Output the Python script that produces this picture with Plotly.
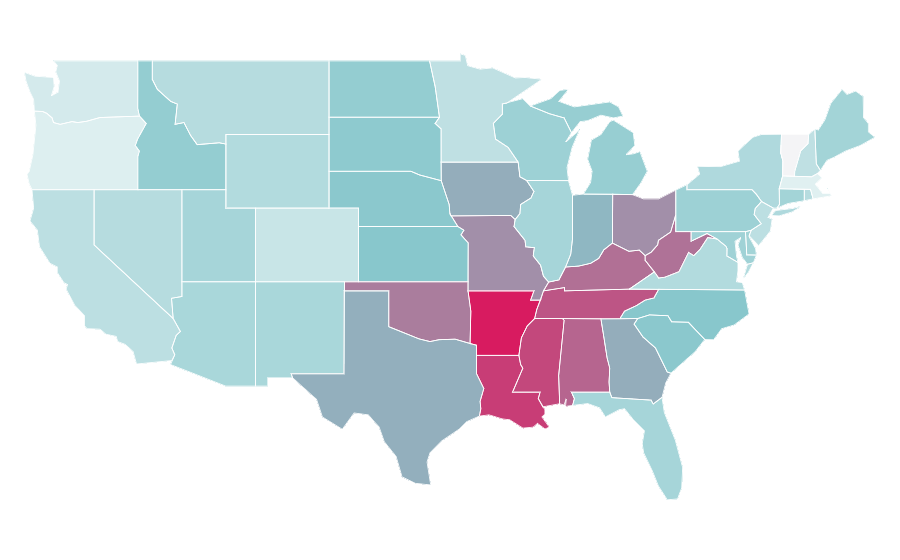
import math
import plotly.graph_objects as go

states = ["AL","AR","AZ","CA","CO","CT","DE","FL","GA","IA","ID","IL","IN","KS","KY","LA","MA","MD","ME",
          "MI","MN","MO","MS","MT","NC","ND","NE","NH","NJ","NM","NV","NY","OH","OK","OR","PA","RI","SC","SD",
          "TN","TX","UT","VA","VT","WA","WI","WV","WY"]
# 0 = palest state, 100 = Arkansas
values = [72, 100, 24, 18, 14, 26, 26, 25, 45, 45, 31, 25, 41, 35, 68, 87, 6, 27, 26,
          30, 17, 56, 83, 20, 35, 31, 34, 17, 18, 24, 20, 22, 56, 63, 7, 28, 20, 34, 33,
          78, 44, 25, 21, 0, 10, 28, 67, 21]

colorscale = [[0, "#f4f4f6"], [0.06, "#e0f0f1"], [0.35, "#88c7cc"], [1, "#d81b60"]]

# plotly's usa topojson comes from a CDN and can't load here, so the outlines
# are simplified state shapes in lon/lat, typed in by hand
outlines = {
    "WA": [[(-122.76,49),(-122.5,48.75),(-122.6,48.4),(-122.35,47.9),(-122.45,47.3),(-122.9,47.1),(-122.7,47.6),(-122.75,48.1),(-123.2,48.15),(-124,48.17),(-124.73,48.38),(-124.62,47.9),(-124.35,47.3),(-124.1,46.9),(-124.05,46.27),(-123.5,46.25),(-123.2,46.15),(-122.85,45.9),(-122.75,45.65),(-122.3,45.55),(-121.5,45.7),(-121.1,45.65),(-120.5,45.72),(-119.6,45.92),(-119,45.93),(-116.92,46),(-117.04,46.42),(-117.03,49)]],
    "OR": [[(-124.05,46.27),(-123.95,45.5),(-124.07,44.7),(-124.15,43.9),(-124.4,43),(-124.55,42.84),(-124.4,42.3),(-124.21,42),(-120,42),(-117.03,42),(-117.03,43.8),(-116.93,44.1),(-117.2,44.4),(-117.05,44.75),(-116.5,45.5),(-116.46,45.6),(-116.92,46),(-119,45.93),(-119.6,45.92),(-120.5,45.72),(-121.1,45.65),(-121.5,45.7),(-122.3,45.55),(-122.75,45.65),(-122.85,45.9),(-123.2,46.15),(-123.5,46.25)]],
    "CA": [[(-124.21,42),(-120,42),(-120,39),(-114.63,35),(-114.14,34.3),(-114.43,34.08),(-114.72,33.4),(-114.52,33.03),(-114.72,32.72),(-117.12,32.53),(-117.25,32.85),(-117.35,33.2),(-117.9,33.6),(-118.4,33.75),(-118.5,34.03),(-119.2,34.15),(-119.6,34.42),(-120.47,34.45),(-120.65,34.6),(-120.65,35.15),(-121.3,35.7),(-121.9,36.6),(-121.8,36.85),(-122.05,36.95),(-122.5,37.5),(-122.5,37.8),(-123,38),(-123.7,38.9),(-123.85,39.8),(-124.35,40.3),(-124.1,41)]],
    "NV": [[(-120,42),(-114.04,42),(-114.04,36.2),(-114.74,36.1),(-114.63,35),(-120,39)]],
    "ID": [[(-117.03,49),(-116.05,49),(-116.05,48),(-115.7,47.45),(-114.8,46.8),(-114.35,46.65),(-114.5,45.55),(-113.9,45.65),(-113.45,44.95),(-113,44.45),(-111.5,44.55),(-111.05,44.48),(-111.05,42),(-117.03,42),(-117.03,43.8),(-116.93,44.1),(-117.2,44.4),(-117.05,44.75),(-116.5,45.5),(-116.46,45.6),(-116.92,46),(-117.04,46.42)]],
    "MT": [[(-116.05,49),(-104.05,49),(-104.05,45),(-111.05,45),(-111.05,44.48),(-111.5,44.55),(-113,44.45),(-113.45,44.95),(-113.9,45.65),(-114.5,45.55),(-114.35,46.65),(-114.8,46.8),(-115.7,47.45),(-116.05,48)]],
    "WY": [[(-111.05,45),(-104.05,45),(-104.05,41),(-111.05,41)]],
    "UT": [[(-114.04,42),(-111.05,42),(-111.05,41),(-109.05,41),(-109.05,37),(-114.04,37)]],
    "CO": [[(-109.05,41),(-102.05,41),(-102.05,37),(-109.05,37)]],
    "AZ": [[(-114.04,37),(-109.05,37),(-109.05,31.33),(-111.07,31.33),(-114.81,32.5),(-114.72,32.72),(-114.52,33.03),(-114.72,33.4),(-114.43,34.08),(-114.14,34.3),(-114.63,35),(-114.74,36.1),(-114.04,36.2)]],
    "NM": [[(-109.05,37),(-103,37),(-103.04,32),(-106.62,32),(-106.53,31.78),(-108.21,31.78),(-108.21,31.33),(-109.05,31.33)]],
    "ND": [[(-104.05,49),(-97.23,49),(-96.85,47.6),(-96.56,45.94),(-104.05,45.94)]],
    "SD": [[(-104.05,45.94),(-96.56,45.94),(-96.85,45.6),(-96.45,45.3),(-96.45,43.5),(-96.44,42.49),(-97.9,42.8),(-98.5,43),(-104.05,43)]],
    "NE": [[(-104.05,43),(-98.5,43),(-97.9,42.8),(-96.44,42.49),(-96.1,41.7),(-95.9,41.2),(-95.85,40.7),(-95.31,40),(-102.05,40),(-102.05,41),(-104.05,41)]],
    "KS": [[(-102.05,40),(-95.31,40),(-94.9,39.8),(-95.1,39.55),(-94.61,39.11),(-94.62,37),(-102.05,37)]],
    "OK": [[(-103,37),(-94.62,37),(-94.62,36.5),(-94.43,35.4),(-94.48,33.64),(-95.5,33.88),(-96.6,33.85),(-97.2,33.75),(-97.95,33.9),(-98.95,34.2),(-100,34.56),(-100,36.5),(-103,36.5)]],
    "TX": [[(-103.04,36.5),(-100,36.5),(-100,34.56),(-98.95,34.2),(-97.95,33.9),(-97.2,33.75),(-96.6,33.85),(-95.5,33.88),(-94.48,33.64),(-94.04,33.55),(-94.04,32),(-93.55,31.2),(-93.8,30.5),(-93.75,30.1),(-93.85,29.7),(-94.7,29.4),(-95.2,29),(-96.4,28.35),(-97.2,27.7),(-97.4,27.2),(-97.15,25.96),(-98.2,26.05),(-99.1,26.4),(-99.5,27.5),(-100.3,28.3),(-100.65,29.1),(-101.4,29.77),(-102.35,29.87),(-102.85,29.3),(-103.15,28.98),(-104.5,29.65),(-104.9,30.6),(-106,31.4),(-106.53,31.78),(-106.62,32),(-103.04,32)]],
    "MN": [[(-97.23,49),(-95.15,49),(-95.15,49.38),(-94.8,49.3),(-94.64,48.74),(-93.8,48.55),(-92.95,48.62),(-92,48.3),(-91.4,48.07),(-90.75,48.1),(-89.6,48),(-90.9,47.3),(-92,46.7),(-92.29,46.66),(-92.29,46.1),(-92.9,45.6),(-92.75,44.75),(-91.9,44.3),(-91.22,43.5),(-96.45,43.5),(-96.45,45.3),(-96.85,45.6),(-96.56,45.94),(-96.85,47.6)]],
    "IA": [[(-96.45,43.5),(-91.22,43.5),(-91.1,42.7),(-90.64,42.5),(-90.15,41.9),(-90.35,41.55),(-91.05,41.2),(-91.1,40.7),(-91.42,40.38),(-91.72,40.6),(-95.77,40.58),(-95.85,40.7),(-95.9,41.2),(-96.1,41.7),(-96.44,42.49)]],
    "MO": [[(-95.77,40.58),(-91.72,40.6),(-91.42,40.38),(-91.5,40),(-90.75,39.25),(-90.7,38.9),(-90.12,38.85),(-90.2,38.4),(-89.7,37.9),(-89.5,37.3),(-89.15,36.98),(-89.5,36.5),(-89.7,36),(-90.37,36),(-90.15,36.5),(-94.62,36.5),(-94.62,37),(-94.61,39.11),(-95.1,39.55),(-94.9,39.8),(-95.31,40),(-95.85,40.7)]],
    "AR": [[(-94.62,36.5),(-90.15,36.5),(-90.37,36),(-89.7,36),(-89.95,35.5),(-90.1,35),(-90.6,34.6),(-91,33.95),(-91.17,33),(-94.04,33),(-94.04,33.55),(-94.48,33.64),(-94.43,35.4)]],
    "LA": [[(-94.04,33),(-91.17,33),(-91.05,32.5),(-90.9,32.3),(-91.6,31),(-89.73,31),(-89.85,30.65),(-89.55,30.2),(-89.4,30.05),(-89.4,29.8),(-89.6,29.65),(-89.1,29.1),(-89.4,29),(-89.9,29.3),(-90.2,29.1),(-90.9,29.05),(-91.8,29.5),(-92.3,29.55),(-93.2,29.77),(-93.85,29.7),(-93.75,30.1),(-93.8,30.5),(-93.55,31.2),(-94.04,32)]],
    "MS": [[(-90.1,35),(-88.2,35),(-88.1,34.9),(-88.47,31.9),(-88.4,30.37),(-89.55,30.2),(-89.85,30.65),(-89.73,31),(-91.6,31),(-90.9,32.3),(-91.05,32.5),(-91.17,33),(-91,33.95),(-90.6,34.6)]],
    "AL": [[(-88.2,35),(-85.6,34.98),(-85.18,32.87),(-85,32.3),(-85.05,31.55),(-85,31),(-87.6,31),(-87.4,30.65),(-87.52,30.28),(-88,30.23),(-87.95,30.65),(-88.1,30.3),(-88.4,30.37),(-88.47,31.9),(-88.1,34.9)]],
    "GA": [[(-85.6,34.98),(-83.1,35),(-83.35,34.7),(-82.75,34),(-81.9,33.4),(-81.4,32.6),(-81.1,32.1),(-80.85,32.03),(-81.2,31.5),(-81.45,30.72),(-82.05,30.36),(-82.2,30.57),(-84.86,30.7),(-85,31),(-85.05,31.55),(-85,32.3),(-85.18,32.87)]],
    "FL": [[(-87.6,31),(-85,31),(-84.86,30.7),(-82.2,30.57),(-82.05,30.36),(-81.45,30.72),(-81.3,29.9),(-80.9,29.05),(-80.55,28.4),(-80.05,26.9),(-80.12,25.8),(-80.4,25.2),(-81.1,25.15),(-81.7,25.9),(-82.1,26.7),(-82.7,27.7),(-82.8,28.2),(-82.65,28.9),(-83.4,29.5),(-84,30.1),(-84.35,30.05),(-85.3,29.65),(-85.7,30.15),(-86.5,30.38),(-87.52,30.28),(-87.4,30.65)]],
    "SC": [[(-83.1,35),(-82.3,35.2),(-81.05,35.15),(-80.8,34.82),(-79.67,34.8),(-78.55,33.86),(-79.2,33.2),(-79.9,32.7),(-80.45,32.3),(-80.85,32.03),(-81.1,32.1),(-81.4,32.6),(-81.9,33.4),(-82.75,34),(-83.35,34.7)]],
    "NC": [[(-84.32,34.99),(-83.1,35),(-82.3,35.2),(-81.05,35.15),(-80.8,34.82),(-79.67,34.8),(-78.55,33.86),(-77.95,33.85),(-77.4,34.45),(-76.55,34.65),(-75.55,35.25),(-75.85,36.55),(-81.68,36.59),(-82,36.12),(-82.6,36),(-83.2,35.7),(-84,35.4)]],
    "TN": [[(-90.1,35),(-88.2,35),(-85.6,34.98),(-84.32,34.99),(-84,35.4),(-83.2,35.7),(-82.6,36),(-82,36.12),(-81.68,36.59),(-83.68,36.6),(-88.07,36.5),(-88.07,36.68),(-89.5,36.5),(-89.7,36),(-89.95,35.5)]],
    "KY": [[(-89.5,36.5),(-88.07,36.68),(-88.07,36.5),(-83.68,36.6),(-81.97,37.54),(-82.6,38.17),(-82.6,38.42),(-83,38.72),(-83.7,38.65),(-84.25,38.9),(-84.82,39.1),(-85.4,38.73),(-85.75,38.27),(-86.3,38),(-87.1,37.85),(-88,37.8),(-88.45,37.1),(-89.15,36.98)]],
    "VA": [[(-83.68,36.6),(-81.68,36.59),(-75.85,36.55),(-76,36.95),(-76.4,37),(-76.3,37.6),(-76.3,38.05),(-77.05,38.4),(-77.04,38.8),(-77.12,38.93),(-77.72,39.32),(-78.35,39.4),(-78.87,38.76),(-79.3,38.42),(-79.65,38.59),(-80.3,37.55),(-81.25,37.25),(-81.68,37.2),(-81.97,37.54)],
           [(-75.95,37.15),(-75.65,37.95),(-75.25,38.03),(-75.6,37.5)]],
    "WV": [[(-80.52,40.64),(-80.52,39.72),(-79.48,39.72),(-79.48,39.2),(-78.4,39.62),(-77.72,39.32),(-78.35,39.4),(-78.87,38.76),(-79.3,38.42),(-79.65,38.59),(-80.3,37.55),(-81.25,37.25),(-81.68,37.2),(-81.97,37.54),(-82.6,38.17),(-82.6,38.42),(-82.2,38.6),(-81.75,39),(-81.7,39.25),(-80.87,39.7),(-80.6,40.45)]],
    "MD": [[(-79.48,39.72),(-75.79,39.72),(-75.7,38.46),(-75.05,38.45),(-75.25,38.03),(-75.65,37.95),(-76,38.3),(-76.3,39),(-76.1,39.4),(-76.5,39.2),(-76.4,38.4),(-76.3,38.05),(-77.05,38.4),(-77.04,38.8),(-77.12,38.93),(-77.72,39.32),(-78.4,39.62),(-79.48,39.2)]],
    "DE": [[(-75.79,39.72),(-75.4,39.8),(-75.55,39.45),(-75.1,38.8),(-75.05,38.45),(-75.7,38.46)]],
    "PA": [[(-80.52,41.98),(-79.76,42.27),(-79.76,42),(-75.35,42),(-75.05,41.75),(-74.7,41.36),(-75.13,40.98),(-75.2,40.65),(-74.72,40.15),(-75.4,39.8),(-75.79,39.72),(-80.52,39.72)]],
    "NJ": [[(-74.7,41.36),(-73.9,41),(-74.25,40.5),(-73.98,40.4),(-74.1,39.75),(-74.9,38.95),(-75.55,39.5),(-75.4,39.8),(-74.72,40.15),(-75.2,40.65),(-75.13,40.98)]],
    "NY": [[(-79.76,42.27),(-78.9,42.85),(-79.05,43.27),(-77.5,43.25),(-76.2,43.55),(-76.3,44.1),(-75.3,44.85),(-74.7,45),(-73.35,45.01),(-73.4,44),(-73.25,43.55),(-73.27,42.75),(-73.5,42.05),(-73.49,41.2),(-73.65,41),(-73.9,41),(-74.7,41.36),(-75.05,41.75),(-75.35,42),(-79.76,42)],
           [(-74.03,40.6),(-73.75,40.87),(-72.6,40.98),(-72,41.1),(-72.6,40.8),(-73.5,40.58)]],
    "CT": [[(-73.5,42.05),(-71.8,42.02),(-71.8,41.4),(-72.9,41.25),(-73.65,41),(-73.49,41.2)]],
    "RI": [[(-71.8,42.02),(-71.38,42.02),(-71.2,41.5),(-71.8,41.4)]],
    "MA": [[(-73.5,42.05),(-73.27,42.75),(-72.46,42.73),(-71.3,42.7),(-70.9,42.88),(-70.6,42.65),(-71.05,42.3),(-70.55,41.8),(-70.05,41.8),(-70.2,42.07),(-69.95,41.67),(-70.65,41.55),(-71.2,41.5),(-71.38,42.02),(-71.8,42.02)]],
    "VT": [[(-73.35,45.01),(-71.5,45.01),(-71.55,44.5),(-72.05,44.1),(-72.45,43),(-72.46,42.73),(-73.27,42.75),(-73.25,43.55),(-73.4,44)]],
    "NH": [[(-71.5,45.01),(-71.08,45.3),(-70.98,43.4),(-70.7,43.05),(-70.9,42.88),(-71.3,42.7),(-72.46,42.73),(-72.45,43),(-72.05,44.1),(-71.55,44.5)]],
    "ME": [[(-71.08,45.3),(-70.85,45.25),(-70.4,45.8),(-70,46.7),(-69.23,47.46),(-68.9,47.18),(-68.3,47.36),(-67.8,47.07),(-67.78,45.93),(-67.45,45.6),(-67.45,45.15),(-67,44.85),(-68,44.4),(-69,44.1),(-69.8,43.75),(-70.25,43.6),(-70.7,43.05),(-70.98,43.4)]],
    "WI": [[(-92.29,46.66),(-92,46.7),(-90.9,46.95),(-90.4,46.55),(-89.1,46.13),(-88.1,45.9),(-87.6,45.1),(-87.98,44.6),(-87.05,45.25),(-87.55,44.3),(-87.9,43.2),(-87.8,42.49),(-90.64,42.5),(-91.1,42.7),(-91.22,43.5),(-91.9,44.3),(-92.75,44.75),(-92.9,45.6),(-92.29,46.1)]],
    "IL": [[(-90.64,42.5),(-87.8,42.49),(-87.53,41.7),(-87.53,39.35),(-87.65,38.5),(-88,37.8),(-88.45,37.1),(-89.15,36.98),(-89.5,37.3),(-89.7,37.9),(-90.2,38.4),(-90.12,38.85),(-90.7,38.9),(-90.75,39.25),(-91.5,40),(-91.42,40.38),(-91.1,40.7),(-91.05,41.2),(-90.35,41.55),(-90.15,41.9)]],
    "IN": [[(-87.53,41.7),(-87.2,41.75),(-86.8,41.76),(-84.8,41.76),(-84.82,39.1),(-85.4,38.73),(-85.75,38.27),(-86.3,38),(-87.1,37.85),(-88,37.8),(-87.65,38.5),(-87.53,39.35)]],
    "OH": [[(-84.8,41.76),(-83.45,41.73),(-82.7,41.5),(-81.7,41.5),(-80.52,41.98),(-80.52,40.64),(-80.6,40.45),(-80.87,39.7),(-81.7,39.25),(-81.75,39),(-82.2,38.6),(-82.6,38.42),(-83,38.72),(-83.7,38.65),(-84.25,38.9),(-84.82,39.1)]],
    "MI": [[(-86.8,41.76),(-86.3,42.4),(-86.2,43),(-86.5,43.65),(-86.25,44.7),(-85.6,45),(-85,45.7),(-84.75,45.78),(-83.4,45.1),(-83.3,44.4),(-83.9,43.9),(-83.4,43.95),(-82.95,44.07),(-82.45,43),(-82.9,42.35),(-83.15,42.05),(-83.45,41.73),(-84.8,41.76)],
           [(-90.4,46.55),(-89,46.95),(-88.4,47.4),(-87.8,47.45),(-88.45,46.8),(-87.4,46.5),(-86.1,46.67),(-85,46.77),(-84.4,46.5),(-84.1,46),(-84.75,45.9),(-85.6,46.05),(-86.5,45.75),(-87,45.7),(-87.6,45.1),(-88.1,45.9),(-89.1,46.13)]],
}

# reference map is plate carree (lat linear in y), the map trace only does mercator,
# so lat gets bent first: stretch around the mid lat, then undo mercator
MID_LAT = 36.66
LAT_STRETCH = 18.4 / 14.73


def flat_lat(lat):
    y = math.radians((lat - MID_LAT) * LAT_STRETCH)
    return math.degrees(2 * math.atan(math.exp(y))) - 90


def make_geojson():
    features = []
    for code, rings in outlines.items():
        polys = []
        for ring in rings:
            pts = [[lon, flat_lat(lat)] for lon, lat in ring]
            polys.append([pts + [pts[0]]])
        features.append({"type": "Feature", "id": code,
                         "geometry": {"type": "MultiPolygon", "coordinates": polys}})
    return {"type": "FeatureCollection", "features": features}


fig = go.Figure(go.Choroplethmap(
    geojson=make_geojson(),
    locations=states,
    z=values,
    colorscale=colorscale,
    zmin=0,
    zmax=100,
    showscale=False,
    marker=dict(line=dict(color="white", width=0.8)),
))

fig.update_layout(
    width=900,
    height=560,
    margin=dict(l=0, r=0, t=0, b=0),
    paper_bgcolor="white",
    map=dict(style="white-bg", center=dict(lon=-95.3, lat=0), zoom=3.373),
)

fig.write_html("out.html")
